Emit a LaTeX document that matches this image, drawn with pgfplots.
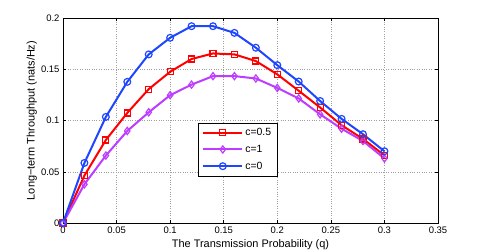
\documentclass[border=0pt]{standalone}
\usepackage{pgfplots}
\pgfplotsset{compat=1.18}
\usepackage{fontspec}
\setmainfont{Liberation Sans}
\definecolor{mred}{RGB}{255,0,0}
\definecolor{mpurple}{RGB}{190,60,255}
\definecolor{mblue}{RGB}{30,70,255}
\begin{document}
\begin{tikzpicture}
\path[use as bounding box] (-63bp,-29bp) rectangle (422bp,223bp);
\begin{axis}[
  at={(0,0)}, anchor=south west,
  scale only axis, width=375bp, height=205bp,
  xmin=0, xmax=0.35, ymin=0, ymax=0.2,
  xtick={0,0.05,0.1,0.15,0.2,0.25,0.3,0.35},
  ytick={0,0.05,0.1,0.15,0.2},
  xticklabels={0,0.05,0.1,0.15,0.2,0.25,0.3,0.35},
  yticklabels={0,0.05,0.1,0.15,0.2},
  tick align=inside, tick pos=both,
  major tick length=3bp,
  grid=major,
  grid style={dotted, gray!75, line width=0.5pt},
  axis line style={line width=0.5pt},
  tick style={black, line width=0.5pt},
  ticklabel style={font=\fontsize{9.5}{11}\selectfont},
  label style={font=\fontsize{11}{13}\selectfont},
  xlabel={The Transmission Probability (q)},
  ylabel={Long\textminus term Throughput (nats/Hz)},
  xlabel style={at={(axis description cs:0.5,-0.107)}, anchor=center},
  ylabel style={at={(axis description cs:-0.083,0.5)}, anchor=center},
  legend style={at={(rel axis cs:0.36,0.49)}, anchor=north west,
    font=\fontsize{10.5}{12}\selectfont, draw=black, line width=0.6pt,
    row sep=4bp, inner xsep=4bp, inner ysep=3.5bp},
  legend cell align=left,
  legend image code/.code={
    \draw[mark repeat=2,mark phase=2] plot coordinates {(0bp,0bp) (19.5bp,0bp) (39bp,0bp)};
  },
  every axis plot/.append style={line width=2bp, mark size=3bp, mark options={solid, fill=none, line width=1.2bp}},
]
\addplot[color=mred, mark=square] coordinates {
(0,0) (0.02,0.0463) (0.04,0.081) (0.06,0.1074) (0.08,0.1306) (0.10,0.1475)
(0.12,0.160) (0.14,0.1654) (0.16,0.1645) (0.18,0.158) (0.20,0.145)
(0.22,0.129) (0.24,0.1127) (0.26,0.0954) (0.28,0.082) (0.30,0.066)};
\addlegendentry{c=0.5}
\addplot[color=mpurple, mark=diamond, mark size=3.6bp] coordinates {
(0,0) (0.02,0.0378) (0.04,0.0658) (0.06,0.0898) (0.08,0.108) (0.10,0.1247)
(0.12,0.135) (0.14,0.1433) (0.16,0.1433) (0.18,0.141) (0.20,0.1318)
(0.22,0.1215) (0.24,0.106) (0.26,0.092) (0.28,0.080) (0.30,0.063)};
\addlegendentry{c=1}
\addplot[color=mblue, mark=o, mark size=3.4bp] coordinates {
(0,0) (0.02,0.0586) (0.04,0.1035) (0.06,0.1377) (0.08,0.1645) (0.10,0.1807)
(0.12,0.192) (0.14,0.192) (0.16,0.1855) (0.18,0.171) (0.20,0.154)
(0.22,0.138) (0.24,0.119) (0.26,0.1016) (0.28,0.0866) (0.30,0.070)};
\addlegendentry{c=0}
\end{axis}
\end{tikzpicture}
\end{document}
